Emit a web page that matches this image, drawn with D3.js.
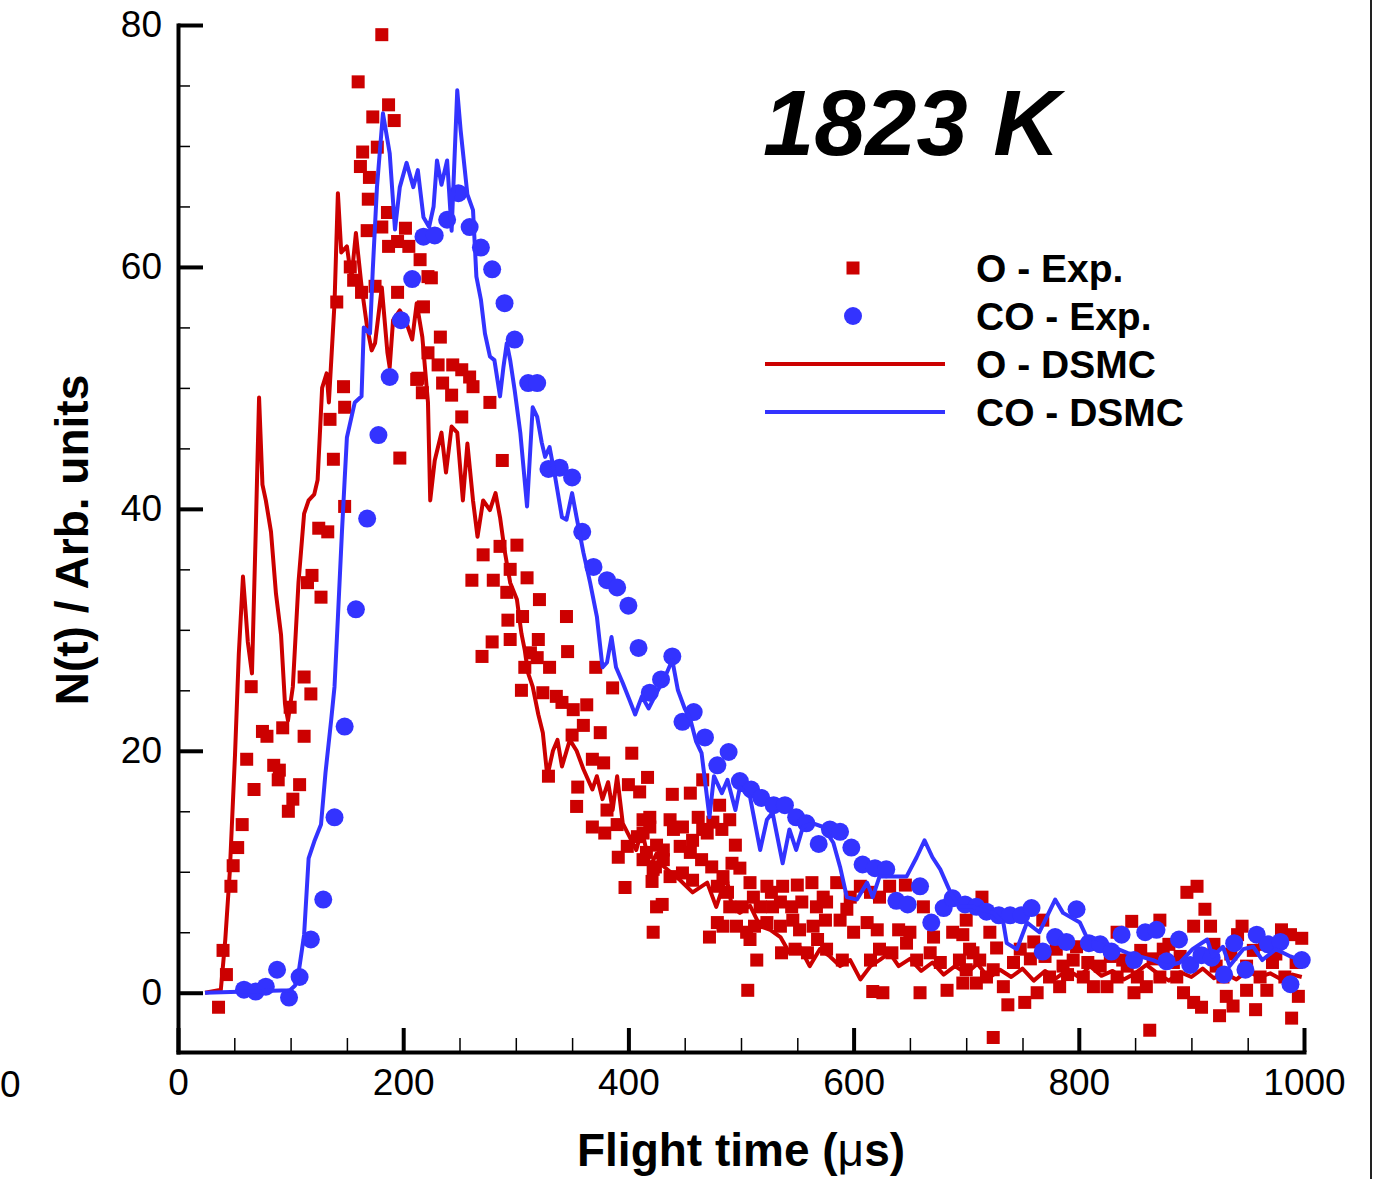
<!DOCTYPE html>
<html>
<head>
<meta charset="utf-8">
<script src="https://cdn.jsdelivr.net/npm/d3@7"></script>
<style>
body { margin: 0; background: #fff; }
svg { display: block; font-family: "Liberation Sans", Arial, sans-serif; }
</style>
</head>
<body>
<svg width="1391" height="1179"></svg>
<script>

var xTicks = [0, 200, 400, 600, 800, 1000];
var yTicks = [0, 20, 40, 60, 80];
var legendNames = ["O - Exp.", "CO - Exp.", "O - DSMC", "CO - DSMC"];
var red = "#cc0000", blue = "#3333ff";

// O - Exp. : [flight time, N(t)]
var oExp = [[36,-1.2],[40,3.5],[43,1.5],[47,8.8],[49,10.5],[53,12],[57,13.9],[61,19.3],[65,25.3],[67.5,16.8],
	[75,21.6],[79,21.2],[85,18.8],[89,17.6],[90,18.4],[93,21.9],[98,15],[99.6,23.6],[102,16],[108,17.2],
	[112,21.2],[112,26.1],[115,33.9],[118,24.7],[119,34.5],[125,38.4],[127,32.7],[133,38.1],[135,47.4],[138,44.1],
	[141,57.1],[147,50.1],[148,48.4],[148,40.2],[153,60],[156,58.9],[160,75.3],[162,68.3],[163,57.9],[164,69.5],
	[168,63],[169,65.6],[170,67.4],[173,72.4],[175,58.4],[177,69.9],[181,79.2],[181,63.3],[186,64.5],[187,73.4],
	[187,61.7],[192,72.1],[195,62.1],[195,57.9],[197,44.2],[202,63.2],[205,61.7],[212,50.7],[213,50.8],[215,60.6],
	[217,49.6],[218,56.7],[222,59.2],[222,52.9],[225,59.1],[231,51.9],[233,54.2],[235,50.4],[243,49.4],[244,51.9],
	[252,51.5],[252,47.6],[259,50.9],[261,34.1],[262,50.1],[270,27.8],[271,36.2],[277,48.8],[279,29],[280,34.1],
	[286,36.9],[288,44],[292,33.1],[293,30.8],[295,35],[295,29.2],[301,37],[305,25],[306,31.1],[308,26.9],
	[310,34.3],[313,28.1],[319,27.7],[320,29.2],[321,32.5],[324,24.8],[329,17.9],[330,26.9],[336,24.5],[341,24],
	[345,31.1],[346,28.2],[350,21.3],[351,23.4],[354,15.4],[355,17],[360,22.1],[363,23.8],[368,19.3],[368,13.7],
	[371,26.9],[375,21.5],[378,19],[379,13.2],[381,15.1],[386,25.2],[390,13.9],[391,11.2],[397,8.7],[399,12.1],
	[400,17.2],[403,19.8],[408,12.9],[410,16.6],[413,13.2],[413,14.3],[413,11],[416,11.6],[417,17.8],[419,14.5],
	[419,13.7],[421,9.2],[422,5],[422,10.2],[424,10.4],[425,7.1],[425,12.2],[430,7.3],[431,11],[431,11.8],
	[437,14.3],[437,9.6],[439,16.4],[440,13.5],[446,12.1],[448,13.7],[448,9.9],[455,16.5],[455,11.6],[457,9.3],
	[457,12.6],[462,14.5],[465,11],[466,17.6],[466,13.5],[470,13.2],[472,4.6],[474,10.4],[475,14.1],[479,8.8],
	[479,5.8],[481,15.5],[483,13.5],[484,9.6],[484,5.5],[488,8.3],[490,14.3],[490,7.1],[492,10.7],[495,12.2],
	[496,5.5],[499,10.3],[501,7.1],[505,5],[506,0.2],[508,9.1],[508,4.4],[511,7.9],[512,5.5],[514,2.7],
	[517,7.1],[523,8.8],[523,5.8],[527,8.3],[528,7.1],[535,7.5],[535,5.5],[536,3.3],[537,8.8],[545,7.1],
	[546,6],[548,3.6],[550,8.9],[552,5.2],[554,7.5],[559,3.3],[563,9.1],[564,5.5],[567,7.1],[568,4.4],
	[573,7.9],[575,6],[576,7.5],[576,3.6],[585,9.1],[588,6],[590,2.7],[594,6.9],[597,7.9],[600,5],
	[606,8.8],[612,5.8],[615,8.3],[615,2.7],[617,0.1],[621,5.2],[623,7.9],[623,3.6],[626,0],[632,8.8],
	[634,3.3],[640,5.2],[646,8.9],[647,4.1],[650,5],[656,2.7],[659,0],[662,7.1],[668,3.3],[671,4.6],
	[677,2.5],[683,0.2],[688,5],[694,2.7],[697,4.8],[697,0.8],[700,6],[700,1.9],[703,3.6],[706,3.3],
	[709,0.8],[712,2.7],[714,7.9],[718,1.3],[721,5],[724,1.9],[724,-3.7],[727,3.7],[733,0.5],[737,-1],
	[742,2.5],[748,3.6],[752,-0.8],[757,2.8],[760,4.2],[763,0],[768,6],[770,3],[774,1.3],[780,3.6],
	[783,0.5],[786,2.2],[790,1.5],[795,2.7],[798,3.8],[804,1.3],[808,2.5],[813,0.5],[815,4],[819,2.2],
	[825,0.5],[828,3],[834,5],[834,1.3],[839,2.7],[843,2.2],[847,5.9],[849,0],[852,1.3],[855,3.5],
	[860,0.5],[863,-3.1],[866,2.8],[872,6],[872,1.3],[875,3.6],[880,4],[884,2.5],[887,1.3],[890,3],
	[893,0],[896,8.3],[902,5.5],[902,-0.8],[905,8.8],[909,-1.2],[912,6.9],[917,5.5],[920,4],[922,2.2],
	[925,-1.9],[928,1.3],[931,-0.3],[935,3.2],[937,-1.1],[941,4.8],[945,5.5],[949,2.2],[949,0.2],[955,3.5],
	[957,-1.4],[961,1.3],[965,4],[967,0.2],[972,2.5],[975,3.2],[980,5.2],[983,1.3],[988,4.8],[989,-2.1],
	[993,2.5],[995,-0.3],[998,4.5]];

// CO - Exp.
var coExp = [[58.6,0.25],[69,0.1],[78,0.5],[88,1.9],[98.6,-0.4],[108,1.3],[118,4.4],[129,7.7],[139,14.5],[148,22],
	[158,31.7],[168,39.2],[178,46.1],[188,50.9],[198,55.6],[208,59],[218,62.5],[228,62.6],[239,63.9],[249,66.1],
	[259,63.3],[269,61.6],[279,59.8],[290,57],[299,54],[311,50.4],[319,50.4],[329,43.3],[339,43.4],[350,42.6],
	[359,38.1],[369,35.2],[381,34.1],[390,33.5],[400,32],[409,28.5],[419,24.8],[429,25.9],[439,27.8],[448,22.4],
	[458,23.2],[468,21.1],[479,18.8],[489,19.9],[499,17.5],[509,16.8],[518,16.1],[529,15.5],[539,15.5],[549,14.5],
	[558,14],[569,12.3],[579,13.5],[588,13.3],[598,12],[608,10.6],[619,10.3],[629,10.2],[638,7.6],[648,7.3],
	[659,8.8],[669,5.8],[680,7],[688,7.8],[699,7.3],[709,7.1],[718,6.7],[729,6.4],[739,6.4],[749,6.4],
	[758,7],[768,3.4],[779,4.6],[789,4.2],[798,6.9],[809,4.1],[819,4],[829,3.4],[838,4.8],[849,2.7],
	[859,5],[869,5.2],[878,2.6],[889,4.4],[899,2.3],[909,3.1],[918,2.9],[929,1.5],[938,4.1],[948,1.9],
	[958,4.8],[968,4],[979,4.2],[988,0.7],[998,2.7]];

// O - DSMC
var oDsmc = [[24,0],[36,0.2],[38,0.2],[42,4.4],[46,10],[50.6,19.6],[54,28],[57.7,34.4],[60,31.6],[62,29],
	[65.7,26.4],[69,38],[72,49.2],[75,42],[78,40.7],[82.6,38.1],[87,33],[91.5,29.6],[95,23.9],[97.7,22.5],
	[102,25.3],[107,33.9],[112,39.6],[116,40.7],[121,41.2],[124,42.4],[128,50],[132,51.2],[134,48.8],[139,57],
	[142,66.1],[145,61.2],[150,61.7],[154,59],[158,62.8],[163,58.4],[168,55],[172,53.1],[175,53.7],[181,58.3],
	[186,52.9],[188,51.7],[191,55.6],[197,56.4],[202,55.6],[208,54],[212,57],[217,54.2],[222,48.8],[224,40.7],
	[228,44],[234,46.3],[238,43],[243,46.8],[248,46.3],[253,40.7],[257,45.4],[262,40.7],[266,37.7],[271,40.7],
	[277,39.9],[282,41.3],[286,39.3],[290,36.6],[295,33.9],[301,32.5],[305,29.7],[308,28.3],[311,26.4],[315,25.3],
	[320,23],[324,21.5],[328,17.9],[333,20],[337,20.9],[341,18.7],[348,20.9],[354,20],[360,18.5],[368,16.8],
	[372,17.9],[377,16],[382,17.4],[386,15.1],[390,17.9],[395,14],[401,12.9],[407,11.8],[412,13.5],[419,10.4],
	[425,11.5],[428,10.7],[437,10],[446,9.3],[457,8.3],[470,9.1],[478,7.1],[487,9.6],[492,7.1],[499,6.6],
	[508,7.2],[517,5.5],[526,5.2],[535,4.6],[543,3.3],[552,3.8],[561,2.2],[570,3.6],[579,3],[588,2.2],
	[597,2.7],[606,1.1],[615,2.2],[623,2.7],[632,3.3],[640,2.2],[650,2.8],[660,1.8],[670,2.5],[680,1.5],
	[690,2.2],[700,1.6],[710,2.4],[720,1.2],[730,1.9],[740,1.3],[750,2],[760,1],[770,1.8],[780,1.2],
	[790,1.9],[800,1.3],[810,2.2],[820,1.4],[830,1.8],[840,1.1],[850,1.6],[860,2.3],[870,1.6],[880,1],
	[890,1.7],[900,1.3],[910,2],[920,1.2],[930,1.6],[940,1.1],[950,1.8],[960,1.3],[970,1.6],[980,1.1],
	[990,1.5],[998,1.3]];

// CO - DSMC
var coDsmc = [[24,0],[99.5,0.2],[104,0.6],[107,1.6],[110,3.5],[112,4.8],[116,11.1],[121,12.5],[127,13.9],[131,18.2],
	[136,22.5],[139,25.3],[142,31],[145.6,38.1],[148,42.4],[150,45.9],[157,48.8],[163,49.3],[165,55],[170.5,54.5],
	[173,59.8],[176.7,66.6],[182,72.7],[188,69.4],[192.7,63.1],[197,66.6],[203,68.6],[209,66.6],[213,68],[218,64.1],
	[223,63.3],[227,65],[230,68.8],[234,66.8],[239,68.8],[243,63],[248,74.6],[251,71.3],[257,66],[262,64.7],
	[265,59.2],[269,57.3],[272.6,54.5],[277,52.6],[281,52.3],[286,49.3],[289,51.7],[292,53.7],[295,52.3],[299,49.8],
	[304,46.3],[310,40.2],[315,48.4],[319,47.6],[323,45.5],[326,44.3],[330,45.1],[335,42.6],[341,39.3],[345,39.1],
	[350,41.3],[354,39.3],[360,36.4],[366,33.9],[372,31.1],[377,26.9],[381,27.3],[385,29.4],[389,26.9],[395,25.6],
	[401,24.2],[406,23],[412,24.5],[418,23.5],[425,24.8],[432,26],[439,27.5],[444,25],[450,23.5],[455,22.6],
	[460,20.8],[465,19.8],[472,14.5],[476,17.9],[483,16.5],[488,17.6],[495,15.1],[499,17],[508,16.2],[517,11.8],
	[523,14.3],[528,14.9],[537,10.7],[543,13.5],[549,11.8],[555,13.7],[564,14],[573,13.7],[582,12.4],[588,10.4],
	[594,7.9],[603,7.7],[612,9.1],[617,7.9],[623,9.6],[635,9.6],[647,9.6],[656,11.2],[663,12.6],[670,11.2],
	[677,10.2],[686,8.3],[694,7.1],[706,7.1],[712,6.9],[724,6.6],[733,5.8],[736,4.1],[745,3.6],[754,5.8],
	[765,5],[779,7.7],[786,6.6],[801,5.8],[807,4.6],[819,4.4],[830,3.8],[843,3.3],[854,3],[866,2.7],
	[878,2.2],[890,2.5],[901,3.6],[914,4.4],[919,3],[928,3.8],[934,2.2],[946,3.6],[955,3.8],[963,2.7],
	[975,3.6],[988,3],[997,2.7]];


var svg = d3.select("svg");

var x = d3.scaleLinear().domain([0, 1000]).range([178, 1304]);
var y = d3.scaleLinear().domain([-4.9, 80]).range([1052, 25]);

// frame line on the right
svg.append("line")
.attr("x1", 1371).attr("x2", 1371)
.attr("y1", 0).attr("y2", 1179)
.attr("stroke", "#222")
.attr("stroke-width", 2);

// stray label from the neighbouring panel
svg.append("text")
.attr("x", 0).attr("y", 1097)
.attr("font-size", 37)
.text("0");

// data
svg.append("g")
.selectAll("rect")
.data(oExp)
.enter().append("rect")
.attr("x", function(d) { return x(d[0]) - 6.5; })
.attr("y", function(d) { return y(d[1]) - 6.5; })
.attr("width", 13)
.attr("height", 13)
.attr("fill", red);

var line = d3.line()
.x(function(d) { return x(d[0]); })
.y(function(d) { return y(d[1]); });

svg.append("path")
.datum(oDsmc)
.attr("d", line)
.attr("fill", "none")
.attr("stroke", red)
.attr("stroke-width", 4)
.attr("stroke-linejoin", "round");

svg.append("g")
.selectAll("circle")
.data(coExp)
.enter().append("circle")
.attr("cx", function(d) { return x(d[0]); })
.attr("cy", function(d) { return y(d[1]); })
.attr("r", 9)
.attr("fill", blue);

svg.append("path")
.datum(coDsmc)
.attr("d", line)
.attr("fill", "none")
.attr("stroke", blue)
.attr("stroke-width", 4)
.attr("stroke-linejoin", "round");

// axes (ticks point inward)
var yMinor = d3.range(0, 81, 5).filter(function(v) { return v % 20 != 0; });
var xMinor = d3.range(0, 1001, 50).filter(function(v) { return v % 200 != 0; });

svg.append("g")
.attr("transform", "translate(178,0)")
.call(d3.axisLeft(y).tickValues(yMinor).tickSize(-12).tickFormat(""))
.call(function(g) { g.select(".domain").remove(); g.selectAll("line").attr("stroke-width", 1.5); });

svg.append("g")
.attr("transform", "translate(0,1052)")
.call(d3.axisBottom(x).tickValues(xMinor).tickSize(-14).tickFormat(""))
.call(function(g) { g.select(".domain").remove(); g.selectAll("line").attr("stroke-width", 1.5); });

var yAxis = svg.append("g")
.attr("transform", "translate(178,0)")
.call(d3.axisLeft(y).tickValues(yTicks).tickSize(-25).tickSizeOuter(0).tickPadding(16).tickFormat(d3.format("d")));

var xAxis = svg.append("g")
.attr("transform", "translate(0,1052)")
.call(d3.axisBottom(x).tickValues(xTicks).tickSize(-24).tickSizeOuter(0).tickPadding(17).tickFormat(d3.format("d")));

[yAxis, xAxis].forEach(function(g) {
	g.select(".domain").attr("stroke-width", 4).attr("stroke-linecap", "square");
	g.selectAll(".tick line").attr("stroke-width", 4);
	g.selectAll(".tick text")
	.attr("font-size", 37)
	.attr("font-family", "Liberation Sans, Arial, sans-serif")
	.attr("fill", "#000");
});

// axis titles
svg.append("text")
.attr("transform", "translate(88,540) rotate(-90)")
.attr("text-anchor", "middle")
.attr("font-size", 46)
.attr("font-weight", "bold")
.text("N(t) / Arb. units");

var xTitle = svg.append("text")
.attr("x", 741).attr("y", 1166)
.attr("text-anchor", "middle")
.attr("font-size", 46)
.attr("font-weight", "bold");
xTitle.append("tspan").text("Flight time (");
xTitle.append("tspan").attr("font-weight", "normal").text("\u03bc");
xTitle.append("tspan").text("s)");

// temperature label
svg.append("text")
.attr("x", 763).attr("y", 155)
.attr("font-size", 92)
.attr("font-weight", "bold")
.attr("font-style", "italic")
.text("1823 K");

// legend
var legendY = [268, 316, 364, 412];
var legend = svg.append("g");

legend.append("rect")
.attr("x", 853 - 6.5).attr("y", legendY[0] - 6.5)
.attr("width", 13).attr("height", 13)
.attr("fill", red);

legend.append("circle")
.attr("cx", 853).attr("cy", legendY[1])
.attr("r", 9)
.attr("fill", blue);

legend.append("line")
.attr("x1", 765).attr("x2", 945)
.attr("y1", legendY[2]).attr("y2", legendY[2])
.attr("stroke", red).attr("stroke-width", 4);

legend.append("line")
.attr("x1", 765).attr("x2", 945)
.attr("y1", legendY[3]).attr("y2", legendY[3])
.attr("stroke", blue).attr("stroke-width", 4);

legend.selectAll("text")
.data(legendNames)
.enter().append("text")
.attr("x", 976)
.attr("y", function(d, i) { return legendY[i] + 14; })
.attr("font-size", 39)
.attr("font-weight", "bold")
.text(function(d) { return d; });

</script>
</body>
</html>
